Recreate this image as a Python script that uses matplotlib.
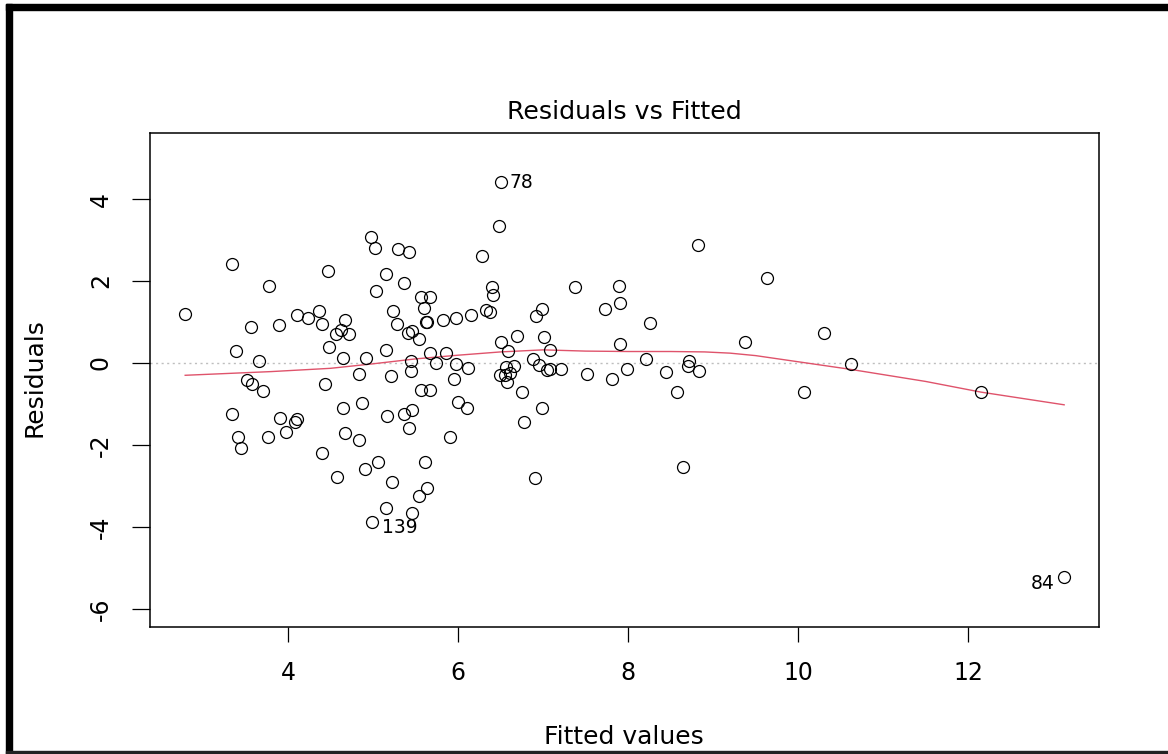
import numpy as np
import matplotlib.pyplot as plt
from matplotlib.patches import Rectangle

plt.rcParams['font.family'] = ['DejaVu Sans']
plt.rcParams['axes.unicode_minus'] = False

# fitted values and residuals of the model
fitted = [2.79, 3.34, 3.78, 4.47, 4.98, 5.02, 5.29, 5.42, 5.15, 5.36,
          5.03, 5.56, 5.67, 5.60, 5.24, 5.62, 5.64, 5.82, 5.97, 5.28,
          5.41, 5.46, 5.54, 4.11, 4.24, 4.36, 4.40, 3.56, 3.89, 4.67,
          4.62, 4.56, 4.72, 4.48, 3.39, 3.66, 4.65, 4.92, 5.15, 5.45,
          5.67, 5.86, 5.74, 5.97, 5.45, 4.84, 5.21, 3.52, 3.58, 3.70,
          4.44, 5.95, 5.56, 5.67, 6.00, 3.34, 3.91, 4.10, 4.08, 3.98,
          3.77, 3.41, 3.45, 4.65, 4.87, 5.16, 5.36, 5.46, 5.42, 5.90,
          4.67, 4.84, 4.40, 4.57, 4.90, 5.06, 5.22, 5.61, 5.64, 5.54,
          5.15, 5.46, 4.99, 6.51, 6.48, 6.28, 8.82, 7.37, 7.89, 7.91,
          7.73, 6.40, 6.41, 6.33, 6.38, 6.15, 6.92, 6.99, 8.26, 9.38,
          6.50, 6.69, 7.01, 7.91, 6.59, 7.08, 6.12, 6.88, 6.95, 8.21,
          8.72, 8.71, 8.83, 7.99, 8.45, 7.52, 7.81, 7.21, 7.05, 7.08,
          6.56, 6.66, 6.49, 6.55, 6.61, 6.58, 8.57, 6.75, 6.11, 6.99,
          6.77, 6.91, 8.65, 9.64, 10.31, 10.62, 10.07, 12.15, 13.13]
residuals = [1.19, 2.41, 1.89, 2.25, 3.07, 2.81, 2.79, 2.71, 2.17, 1.95,
             1.75, 1.60, 1.62, 1.34, 1.28, 0.99, 0.99, 1.06, 1.10, 0.95,
             0.73, 0.77, 0.59, 1.18, 1.10, 1.28, 0.95, 0.88, 0.93, 1.05,
             0.81, 0.71, 0.70, 0.39, 0.29, 0.04, 0.11, 0.11, 0.31, 0.06,
             0.24, 0.25, -0.01, -0.02, -0.19, -0.28, -0.31, -0.41, -0.52, -0.68,
             -0.52, -0.39, -0.66, -0.66, -0.94, -1.24, -1.35, -1.37, -1.44, -1.68,
             -1.80, -1.80, -2.07, -1.09, -0.98, -1.29, -1.24, -1.14, -1.58, -1.80,
             -1.72, -1.89, -2.19, -2.77, -2.59, -2.41, -2.90, -2.41, -3.06, -3.24,
             -3.54, -3.67, -3.87, 4.41, 3.35, 2.61, 2.89, 1.85, 1.87, 1.46,
             1.31, 1.85, 1.67, 1.29, 1.24, 1.16, 1.15, 1.32, 0.98, 0.52,
             0.52, 0.65, 0.63, 0.46, 0.29, 0.32, -0.12, 0.10, -0.06, 0.09,
             0.05, -0.08, -0.20, -0.14, -0.22, -0.27, -0.39, -0.15, -0.18, -0.15,
             -0.09, -0.07, -0.29, -0.29, -0.24, -0.46, -0.71, -0.71, -1.09, -1.11,
             -1.45, -2.80, -2.54, 2.07, 0.72, -0.03, -0.71, -0.71, -5.22]

# smoother through the residuals
smooth_x = [2.79, 3.8, 4.5, 5.0, 5.5, 6.0, 6.5, 7.0, 7.5, 8.0, 8.5, 8.9,
            9.2, 9.5, 9.8, 10.1, 10.6, 11.5, 12.15, 13.13]
smooth_y = [-0.30, -0.21, -0.13, -0.02, 0.10, 0.19, 0.27, 0.32, 0.29, 0.28,
            0.28, 0.27, 0.24, 0.18, 0.09, 0.0, -0.15, -0.45, -0.71, -1.02]

# labelled extreme observations: (id, fitted, residual, offset in points)
outliers = [("78", 6.51, 4.41, (6, 0), 'left'),
            ("139", 4.99, -3.87, (7, -4.5), 'left'),
            ("84", 13.13, -5.22, (-7, -4.5), 'right')]

fig = plt.figure(figsize=(11.68, 7.54), dpi=100)
ax = fig.add_axes([150/1168, 127/754, 949/1168, 494/754])

ax.axhline(0, color='#bebebe', lw=1, ls=(0, (1.5, 2.5)), zorder=1)
ax.plot(fitted, residuals, 'o', mfc='none', mec='black', ms=8.6, mew=0.9, zorder=3)
ax.plot(smooth_x, smooth_y, color='#DF536B', lw=1, zorder=2)

for lab, x, y, off, ha in outliers:
    ax.annotate(lab, (x, y), xytext=off, textcoords='offset points',
                ha=ha, va='center', fontsize=13.5)

ax.set_xlim(2.376, 13.54)
ax.set_ylim(-6.44, 5.61)
ax.set_xticks([4, 6, 8, 10, 12])
ax.set_yticks([-6, -4, -2, 0, 2, 4])
ax.tick_params(axis='x', length=10.6, width=0.9, pad=14, labelsize=17)
ax.tick_params(axis='y', length=12.7, width=0.9, pad=14, labelsize=17)
for t in ax.get_yticklabels():
    t.set_rotation(90)
    t.set_va('center')
for s in ax.spines.values():
    s.set_linewidth(1.1)

fig.text(624/1168, 1 - 119/754, "Residuals vs Fitted", ha='center',
         va='baseline', fontsize=18.2)
fig.text(624/1168, 1 - 744/754, "Fitted values", ha='center',
         va='baseline', fontsize=18)
fig.text(42/1168, 1 - 378/754, "Residuals", ha='center', va='baseline',
         rotation=90, rotation_mode='anchor', fontsize=18)

# border around the figure
fig.patches.append(Rectangle((6/1168, 1 - 10/754), 1162/1168, 6/754,
                             transform=fig.transFigure, color='black', zorder=5))
fig.patches.append(Rectangle((6/1168, 0), 6/1168, 1 - 4/754,
                             transform=fig.transFigure, color='black', zorder=5))
fig.patches.append(Rectangle((6/1168, 0), 1162/1168, 3/754,
                             transform=fig.transFigure, color='#222222', zorder=5))

fig.savefig('out.png', dpi=100)
